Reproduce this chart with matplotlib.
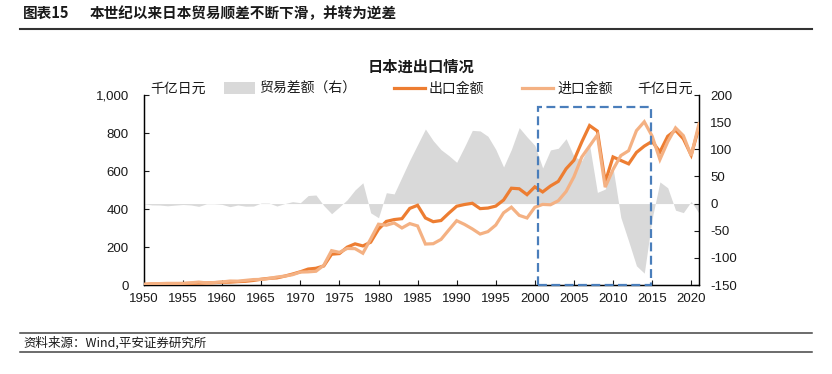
import matplotlib
matplotlib.use("Agg")
import matplotlib.pyplot as plt
from matplotlib.patches import Rectangle, Patch
from matplotlib.lines import Line2D
from matplotlib.ticker import FuncFormatter, MultipleLocator

plt.rcParams['font.family'] = ['Liberation Sans', 'Noto Sans CJK SC', 'DejaVu Sans']
plt.rcParams['axes.unicode_minus'] = False

years = list(range(1950, 2022))

# exports, 千亿日元
exports = [2.98, 4.89, 4.58, 4.59, 5.87, 7.24, 9.00, 10.29, 10.37, 12.44,
           14.60, 15.23, 17.64, 19.62, 24.02, 30.43, 35.20, 37.46, 46.70, 57.56,
           69.54, 83.93, 88.06, 100.31, 162.08, 165.45, 199.35, 216.48, 205.56, 225.32,
           293.83, 334.69, 344.33, 349.09, 403.25, 419.56, 352.90, 333.15, 339.39, 378.23,
           414.57, 423.60, 430.12, 402.02, 404.98, 415.31, 447.31, 509.38, 506.45, 475.48,
           516.54, 489.79, 521.09, 545.48, 611.70, 656.57, 752.46, 839.31, 810.18, 541.71,
           674.00, 655.47, 637.48, 697.74, 730.93, 756.14, 700.36, 782.87, 814.79, 769.32,
           683.99, 830.91]

# imports, 千亿日元
imports = [3.48, 7.37, 7.31, 8.68, 8.63, 8.90, 11.63, 15.43, 10.91, 12.99,
           16.17, 20.93, 20.29, 24.42, 28.58, 29.41, 34.28, 41.99, 46.75, 54.09,
           67.97, 69.10, 72.29, 104.04, 180.76, 171.70, 192.29, 191.32, 167.28, 242.45,
           319.95, 314.64, 326.56, 300.15, 323.21, 310.85, 215.51, 217.37, 240.06, 289.79,
           338.55, 319.00, 295.27, 268.26, 281.04, 315.49, 379.93, 409.56, 366.54, 352.68,
           409.38, 424.16, 422.28, 443.62, 492.17, 569.49, 673.44, 731.36, 789.55, 514.99,
           607.65, 681.11, 706.89, 812.43, 859.09, 784.06, 660.42, 753.79, 827.03, 786.00,
           680.11, 848.75]

# trade balance (right axis), 千亿日元
balance = [-0.5, -2.5, -2.7, -4.1, -2.8, -1.7, -2.6, -5.1, -0.5, -0.5,
           -1.6, -5.7, -2.6, -4.8, -4.6, 1.0, 0.9, -4.5, -0.1, 3.5,
           1.6, 14.8, 15.8, -3.7, -18.7, -6.2, 7.1, 25.2, 38.3, -17.1,
           -26.1, 20.0, 17.8, 48.9, 80.0, 108.7, 137.4, 115.8, 99.3, 88.4,
           76.0, 104.6, 134.8, 133.8, 123.9, 99.8, 67.4, 99.8, 139.9, 122.8,
           107.2, 65.6, 98.8, 101.9, 119.5, 87.1, 79.0, 108.0, 20.6, 26.7,
           66.3, -25.6, -69.4, -114.7, -128.2, -27.9, 39.9, 29.1, -12.2, -16.7,
           3.9, -17.8]

xtick_years = list(range(1950, 2021, 5))
box_years = (2000.4, 2014.8)
box_top = 937

C_EXP = '#ED7D31'
C_IMP = '#F4B183'
C_BAL = '#D9D9D9'
C_BOX = '#4A7EBB'
TXT = '#1a1a1a'

W, H = 832, 374
fig = plt.figure(figsize=(W / 100, H / 100), dpi=100)
ax = fig.add_axes([144 / W, 1 - 285 / H, (699 - 144) / W, (285 - 95) / H])
ax2 = ax.twinx()

ax2.fill_between(years, balance, 0, color=C_BAL, lw=0, zorder=1)
ax.set_zorder(ax2.get_zorder() + 1)
ax.patch.set_visible(False)

l_exp, = ax.plot(years, exports, color=C_EXP, lw=2.3, solid_joinstyle='miter', zorder=3)
l_imp, = ax.plot(years, imports, color=C_IMP, lw=2.3, solid_joinstyle='miter', zorder=4)

ax.set_xlim(1950, 2021)
ax.set_ylim(0, 1000)
ax2.set_ylim(-150, 200)
ax.yaxis.set_major_locator(MultipleLocator(200))
ax2.yaxis.set_major_locator(MultipleLocator(50))
ax.set_xticks(xtick_years)
ax.set_xticklabels([str(y) for y in xtick_years])
ax.yaxis.set_major_formatter(FuncFormatter(lambda v, p: f"{int(v):,}"))

for a in (ax, ax2):
    a.spines['top'].set_visible(False)
    for s in ('left', 'right', 'bottom'):
        a.spines[s].set_color('black')
        a.spines[s].set_linewidth(0.9)
ax.tick_params(axis='both', direction='in', length=3.5, width=0.8, labelsize=9.5,
               colors=TXT)
ax.tick_params(axis='y', pad=11)
ax.tick_params(axis='x', pad=6)
ax2.tick_params(axis='y', direction='in', length=3.5, width=0.8, labelsize=9.5,
                colors=TXT, pad=8)

rect = Rectangle((box_years[0], 0), box_years[1] - box_years[0], box_top,
                 fill=False, edgecolor=C_BOX, lw=1.6, linestyle=(0, (4, 2)),
                 zorder=6, clip_on=False)
ax.add_patch(rect)

# legend
handles = [Patch(facecolor=C_BAL, edgecolor='none'),
           Line2D([], [], color=C_EXP, lw=2.3),
           Line2D([], [], color=C_IMP, lw=2.3)]
labels = ['贸易差额（右）', '出口金额', '进口金额']
fig.legend(handles, labels, ncol=3, loc='center left',
           bbox_to_anchor=(224 / W, 1 - 89 / H), frameon=False,
           handlelength=2.2, handleheight=0.9, handletextpad=0.3,
           columnspacing=2.75, borderpad=0, borderaxespad=0, labelcolor=TXT,
           prop={'family': ['Noto Sans CJK SC'], 'size': 10})

fig.text(150 / W, 1 - 89 / H, '千亿日元', fontsize=10, family=['Noto Sans CJK SC'],
         ha='left', va='center', color=TXT)
fig.text(693 / W, 1 - 89 / H, '千亿日元', fontsize=10, family=['Noto Sans CJK SC'],
         ha='right', va='center', color=TXT)

fig.text(421 / W, 1 - 67 / H, '日本进出口情况', fontsize=11, fontweight='bold',
         family=['Noto Sans CJK SC'], ha='center', va='center', color=TXT)

# header
fig.text(23 / W, 1 - 13 / H, '图表15', fontsize=10.5, fontweight='bold',
         family=['Noto Sans CJK SC', 'Liberation Sans'], ha='left', va='center', color=TXT)
fig.text(90 / W, 1 - 13 / H, '本世纪以来日本贸易顺差不断下滑，并转为逆差', fontsize=10.5,
         fontweight='bold', family=['Noto Sans CJK SC'], ha='left', va='center', color=TXT)
fig.add_artist(Line2D([20 / W, 812 / W], [1 - 28.5 / H, 1 - 28.5 / H],
                      color='#333333', lw=1.5, transform=fig.transFigure))

# footer
fig.add_artist(Line2D([20 / W, 812 / W], [1 - 333 / H, 1 - 333 / H],
                      color='#444444', lw=1.1, transform=fig.transFigure))
fig.add_artist(Line2D([20 / W, 812 / W], [1 - 352 / H, 1 - 352 / H],
                      color='#444444', lw=1.1, transform=fig.transFigure))
fig.text(23 / W, 1 - 343 / H, '资料来源：Wind,平安证券研究所', fontsize=9, style='italic',
         family=['Noto Sans CJK SC', 'Liberation Sans'], ha='left', va='center', color=TXT)

fig.savefig('out.png', dpi=100)
